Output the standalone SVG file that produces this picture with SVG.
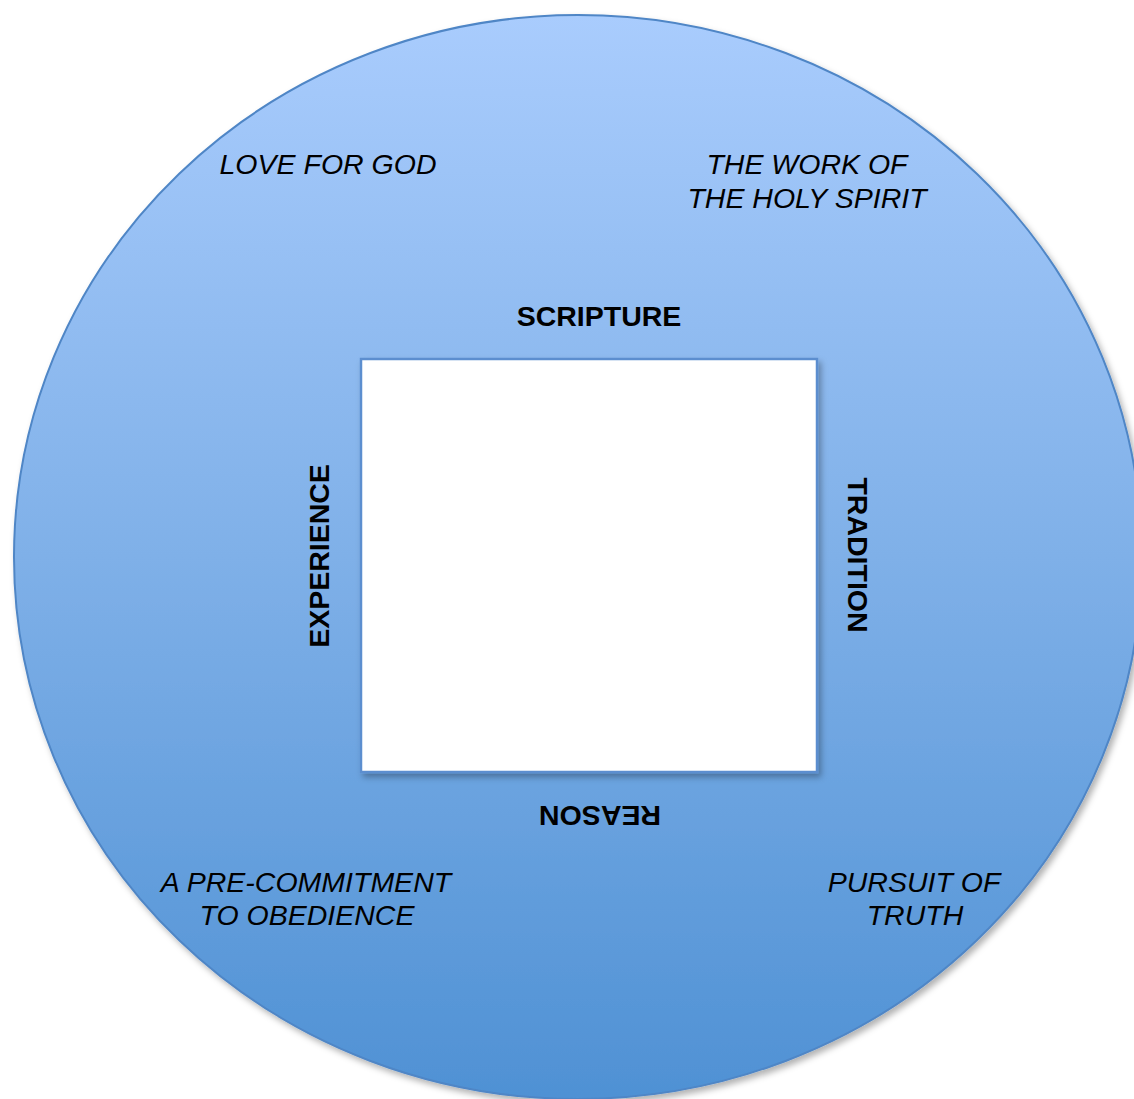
<svg xmlns="http://www.w3.org/2000/svg" width="1134" height="1099" viewBox="0 0 1134 1099">
<defs>
<linearGradient id="bg" x1="0" y1="0" x2="0" y2="1">
<stop offset="0" stop-color="#a9ccfd"/>
<stop offset="0.5" stop-color="#7fb0e8"/>
<stop offset="1" stop-color="#4f91d4"/>
</linearGradient>
<filter id="sh" x="-10%" y="-10%" width="130%" height="130%">
<feDropShadow dx="3" dy="4" stdDeviation="3" flood-color="#000" flood-opacity="0.3"/>
</filter>
</defs>
<style>
.b{font-family:"Liberation Sans",Arial,sans-serif;font-weight:bold;font-size:28.5px;fill:#000;text-anchor:middle}
.i{font-family:"Liberation Sans",Arial,sans-serif;font-style:italic;font-size:28.5px;fill:#000;text-anchor:middle}
</style>
<rect width="1134" height="1099" fill="#fff"/>
<g id="circle">
<ellipse cx="578" cy="557" rx="564" ry="542" fill="url(#bg)" stroke="#4f86c6" stroke-width="2" filter="url(#sh)"/>
</g>
<g id="square">
<rect x="361" y="359" width="456" height="413" fill="#fff" stroke="#5b8ecf" stroke-width="2.5" filter="url(#sh)"/>
</g>
<g id="connectors"/>
<g id="scripture"><text class="b" x="599" y="326">SCRIPTURE</text></g>
<g id="reason"><text class="b" transform="translate(600,816) rotate(180)" x="0" y="10">REASON</text></g>
<g id="experience"><text class="b" transform="translate(319,556) rotate(-90)" x="0" y="10">EXPERIENCE</text></g>
<g id="tradition"><text class="b" transform="translate(858,555) rotate(90)" x="0" y="10">TRADITION</text></g>
<g id="love"><text class="i" x="328" y="174">LOVE FOR GOD</text></g>
<g id="spirit"><text class="i" x="807" y="174">THE WORK OF</text><text class="i" x="807" y="208">THE HOLY SPIRIT</text></g>
<g id="obedience"><text class="i" x="306" y="892">A PRE-COMMITMENT</text><text class="i" x="307" y="925">TO OBEDIENCE</text></g>
<g id="truth"><text class="i" x="914" y="892">PURSUIT OF</text><text class="i" x="915" y="925">TRUTH</text></g>
</svg>
